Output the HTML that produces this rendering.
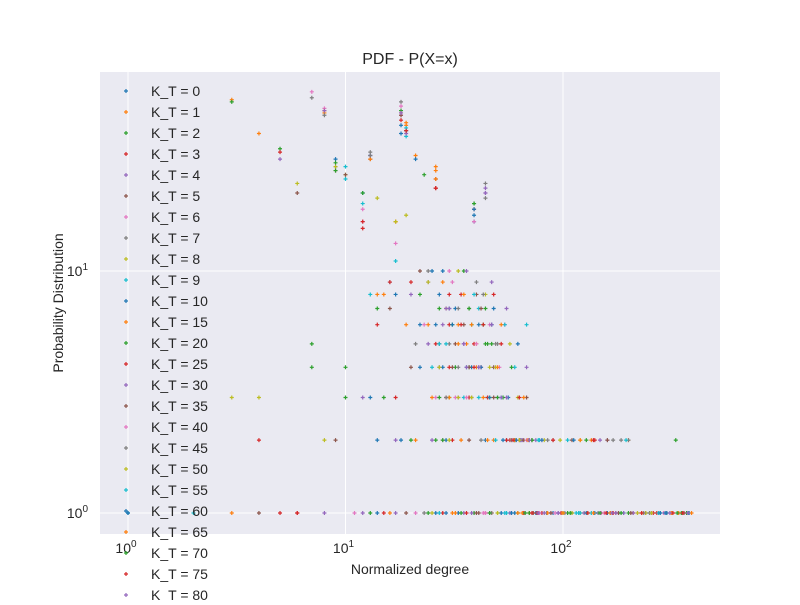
<!DOCTYPE html>
<html><head><meta charset="utf-8"><style>
body{margin:0;background:#fff;font-family:"Liberation Sans",sans-serif;}
svg text{font-family:"Liberation Sans",sans-serif;fill:#262626;}
</style></head><body>
<svg id="chart" width="800" height="600" viewBox="0 0 800 600">
<rect x="100" y="72" width="620" height="462" fill="#eaeaf2"/>
<g id="grid"></g><g id="marks"></g><g id="axes"></g><g id="legend"></g>
<text x="410" y="64" font-size="16" text-anchor="middle">PDF - P(X=x)</text>
<text x="410" y="574" font-size="14" text-anchor="middle">Normalized degree</text>
<text transform="translate(63,303) rotate(-90)" font-size="14" text-anchor="middle">Probability Distribution</text>
</svg>
<script>
const labels=[0,1,2,3,4,5,6,7,8,9,10,15,20,25,30,35,40,45,50,55,60,65,70,75,80];
const colors=["#1f77b4","#ff7f0e","#2ca02c","#d62728","#9467bd","#8c564b","#e377c2","#7f7f7f","#bcbd22","#17becf"];
const xTicks=[1,10,100];
const yTicks=[1,10];
const S0=[[1,1],[18,37],[19,38],[39,16],[12,21],[13,3],[28,4],[35,5],[60,2],[90,1],[150,1],[250,1],[45,3],[22,6],[30,7],[16,9],[55,2],[75,1],[18,2],[380,1],[44,2],[14,1],[26,1],[33,1],[52,1],[29,2],[41,6],[38,4],[27,8]];
const S1=[[3,51],[4,37],[8,45],[19,40],[17,16],[26,26],[21,30],[40,4],[25,3],[33,6],[48,2],[70,1],[120,1],[200,2],[320,1],[15,8],[28,9],[210,1],[16,1],[31,1],[47,1],[34,2],[36,5],[29,7],[24,6]];
const S2=[[3,50],[5,32],[23,25],[39,19],[14,7],[7,4],[10,3],[30,3],[45,5],[60,2],[100,1],[330,2],[180,1],[35,10],[20,2],[370,1],[13,1],[24,1],[39,1],[62,1],[26,2],[32,4],[43,6],[27,7]];
const S3=[[5,31],[14,6],[18,45],[39,18],[26,5],[37,3],[42,4],[55,2],[80,1],[140,2],[260,1],[4,2],[20,9],[30,6],[6,1],[15,1],[28,1],[44,1],[66,1],[31,2],[39,5],[34,8],[29,3]];
const S4=[[5,29],[9,27],[17,2],[30,7],[50,3],[65,2],[95,1],[210,1],[44,21],[36,10],[12,3],[24,5],[160,2],[17,1],[35,1],[57,1],[25,2],[41,4],[33,3],[28,6]];
const S5=[[6,21],[9,26],[13,29],[26,22],[35,6],[48,4],[68,3],[110,1],[160,2],[240,1],[22,10],[16,7],[4,1],[19,1],[40,1],[73,1],[37,2],[27,5],[31,4],[40,8]];
const S6=[[7,55],[8,47],[18,44],[12,16],[17,13],[31,9],[42,4],[58,2],[88,1],[150,1],[26,3],[290,1],[21,1],[43,1],[78,1],[28,2],[35,5],[46,6],[32,3]];
const S7=[[7,52],[8,44],[18,50],[13,31],[44,23],[24,10],[33,4],[50,5],[72,2],[170,2],[300,1],[38,3],[185,2],[23,1],[46,1],[84,1],[42,2],[30,5],[27,4],[37,7]];
const S8=[[6,23],[10,25],[14,20],[19,17],[33,10],[46,4],[62,3],[82,2],[130,1],[240,1],[27,4],[4,3],[25,1],[50,1],[125,1],[30,2],[38,6],[33,3],[44,8]];
const S9=[[10,24],[12,19],[19,36],[17,11],[25,4],[38,6],[52,3],[78,2],[115,1],[190,1],[68,6],[2,1],[27,1],[55,1],[135,1],[49,2],[35,3],[29,5],[41,7]];
const S10=[[9,29],[13,30],[21,29],[39,17],[17,8],[28,10],[42,4],[56,3],[70,2],[95,1],[160,1],[300,1],[47,6],[14,2],[29,1],[60,1],[145,1],[53,2],[36,4],[32,7],[26,6]];
const S11=[[13,29],[17,16],[26,27],[19,6],[30,3],[40,5],[60,2],[85,1],[135,2],[230,1],[35,8],[390,1],[32,1],[65,1],[155,1],[45,2],[38,6],[43,3]];
const S12=[[9,28],[12,21],[22,8],[37,4],[47,5],[64,2],[105,1],[200,1],[350,1],[15,3],[28,2],[7,5],[34,1],[70,1],[165,1],[50,3],[44,7],[31,6]];
const S13=[[12,15],[18,42],[26,22],[16,9],[34,6],[45,3],[63,2],[98,1],[170,1],[270,1],[52,5],[5,1],[36,1],[76,1],[175,1],[57,2],[39,4],[30,8]];
const S14=[[13,30],[19,37],[44,21],[29,7],[41,4],[55,3],[75,2],[125,1],[210,1],[24,9],[8,1],[38,1],[82,1],[190,1],[64,2],[47,6],[35,5]];
const S15=[[10,25],[18,44],[26,24],[20,4],[32,5],[48,3],[66,2],[110,2],[180,1],[360,1],[9,2],[41,1],[88,1],[205,1],[72,2],[42,7],[37,4]];
const S16=[[12,18],[18,48],[39,16],[23,6],[36,3],[51,4],[68,2],[92,1],[155,1],[30,10],[11,1],[44,1],[95,1],[220,1],[80,2],[54,6],[40,5]];
const S17=[[13,30],[19,38],[44,20],[21,5],[29,3],[43,8],[58,2],[85,2],[145,1],[250,1],[40,9],[200,2],[47,1],[102,1],[235,1],[90,2],[49,5],[33,7]];
const S18=[[9,27],[17,16],[24,9],[38,3],[49,4],[63,2],[100,1],[220,1],[3,3],[8,2],[120,2],[50,1],[110,1],[255,1],[97,2],[57,5],[46,3]];
const S19=[[10,27],[13,8],[19,39],[27,5],[41,3],[54,6],[77,2],[120,1],[195,2],[1,1],[280,1],[54,1],[118,1],[275,1],[105,2],[60,4],[39,8]];
const S20=[[18,40],[39,18],[22,4],[31,6],[46,3],[61,2],[80,2],[140,1],[280,1],[1,1],[25,10],[340,1],[58,1],[128,1],[295,1],[112,2],[62,5],[48,7]];
const S21=[[8,46],[19,41],[26,24],[14,8],[33,5],[50,4],[69,2],[100,1],[165,1],[340,1],[21,2],[3,1],[62,1],[138,1],[315,1],[120,2],[66,3],[52,6]];
const S22=[[9,26],[18,46],[39,19],[27,3],[37,7],[53,3],[72,2],[108,1],[185,1],[46,1],[10,4],[67,1],[148,1],[335,1],[128,2],[58,4],[44,5]];
const S23=[[12,16],[19,38],[26,22],[17,3],[30,4],[43,6],[59,2],[90,2],[130,1],[230,1],[6,1],[320,1],[72,1],[158,1],[355,1],[138,2],[63,3],[48,8]];
const S24=[[8,46],[18,45],[44,22],[20,8],[36,4],[52,3],[70,2],[95,1],[175,1],[310,1],[47,9],[12,1],[77,1],[168,1],[375,1],[148,2],[68,4],[55,7]];
const series=[S0,S1,S2,S3,S4,S5,S6,S7,S8,S9,S10,S11,S12,S13,S14,S15,S16,S17,S18,S19,S20,S21,S22,S23,S24];

const NS="http://www.w3.org/2000/svg";
const X0=128,XD=217.5,Y0=513,YD=242;
function xs(v){return X0+Math.log10(v)*XD;}
function ys(v){return Y0-Math.log10(v)*YD;}
function mk(tag,attrs,parent){const e=document.createElementNS(NS,tag);for(const k in attrs)e.setAttribute(k,attrs[k]);parent.appendChild(e);return e;}
const grid=document.getElementById('grid'),axes=document.getElementById('axes'),marks=document.getElementById('marks'),leg=document.getElementById('legend');
xTicks.forEach(t=>{const x=xs(t);
 const l=mk('line',{x1:x,x2:x,y1:72,y2:534,stroke:'#fff','stroke-width':1},grid);
 
 
 const tx=mk('text',{x:x-2,y:553,'font-size':14,'text-anchor':'middle'},axes);
 
 
 tx.innerHTML='10<tspan dy="-6" font-size="10">'+Math.round(Math.log10(t))+'</tspan>';});
yTicks.forEach(t=>{const y=ys(t);
 const l=mk('line',{x1:100,x2:720,y1:y,y2:y,stroke:'#fff','stroke-width':1},grid);
 
 
 const tx=mk('text',{x:88,y:y+5,'font-size':14,'text-anchor':'end'},axes);
 
 
 tx.innerHTML='10<tspan dy="-6" font-size="10">'+Math.round(Math.log10(t))+'</tspan>';});
series.forEach((s,i)=>{const c=colors[i%10];
 const g=mk('g',{},marks);
 
 
 s.forEach(p=>{const x=xs(p[0]),y=ys(p[1]);
  const m=mk('path',{d:`M${x-2} ${y}h4M${x} ${y-2}v4`,stroke:c,'stroke-width':1.2},g);
  
  });
 const ly=91+i*21;
 const lm=mk('path',{d:`M${124} ${ly}h4M126 ${ly-2}v4`,stroke:c,'stroke-width':1.2},leg);
 
 
 const lt=mk('text',{x:151,y:ly+5,'font-size':14},leg);
 
 
 lt.textContent='K_T = '+labels[i];});
</script>
</body></html>
